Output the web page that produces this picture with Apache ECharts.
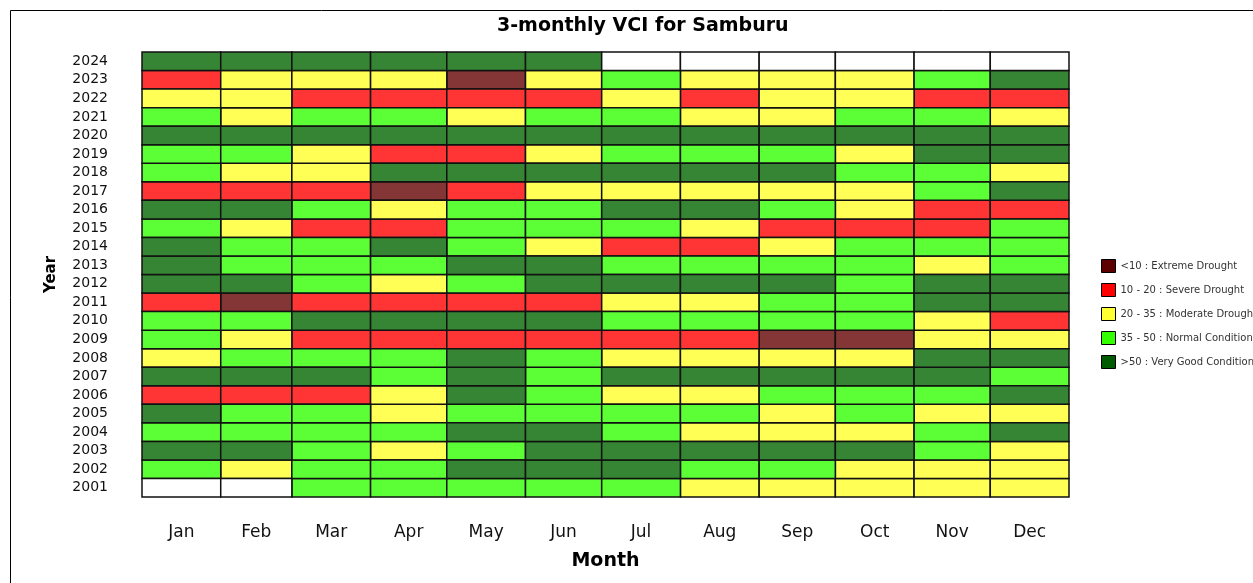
<!DOCTYPE html>
<html>
<head>
<meta charset="utf-8">
<script src="https://cdn.jsdelivr.net/npm/echarts@6/dist/echarts.min.js"></script>
<style>
  html, body { margin: 0; padding: 0; background: #fff; }
  #VciChart { width: 1253px; height: 583px; }
</style>
</head>
<body>
<div id="VciChart"></div>
<script>
// categories
var years = ['2001','2002','2003','2004','2005','2006','2007','2008','2009','2010','2011','2012',
             '2013','2014','2015','2016','2017','2018','2019','2020','2021','2022','2023','2024'];
var months = ['Jan','Feb','Mar','Apr','May','Jun','Jul','Aug','Sep','Oct','Nov','Dec'];
var monthDays = [31,28,31,30,31,30,31,31,30,31,30,31];

// VCI class limits and legend
var classMax = [10, 20, 35, 50, Infinity];
var classNames = ['<10 : Extreme Drought','10 - 20 : Severe Drought','20 - 35 : Moderate Drought',
                  '35 - 50 : Normal Conditions','>50 : Very Good Conditions'];
var cellColors = ['#843636','#ff3535','#ffff55','#5cff35','#358535'];
var legendColors = ['#5c0000','#ff0000','#ffff33','#33ff00','#005a00'];

// estimated 3-monthly VCI, one row per year (2001 -> 2024), null = no data
var vci = [
  [null,null,42,42,42,42,42,28,28,28,28,28],
  [42,28,42,42,60,60,60,42,42,28,28,28],
  [60,60,42,28,42,60,60,60,60,60,42,28],
  [42,42,42,42,60,60,42,28,28,28,42,60],
  [60,42,42,28,42,42,42,42,28,42,28,28],
  [15,15,15,28,60,42,28,28,42,42,42,60],
  [60,60,60,42,60,42,60,60,60,60,60,42],
  [28,42,42,42,60,42,28,28,28,28,60,60],
  [42,28,15,15,15,15,15,15,5,5,28,28],
  [42,42,60,60,60,60,42,42,42,42,28,15],
  [15,5,15,15,15,15,28,28,42,42,60,60],
  [60,60,42,28,42,60,60,60,60,42,60,60],
  [60,42,42,42,60,60,42,42,42,42,28,42],
  [60,42,42,60,42,28,15,15,28,42,42,42],
  [42,28,15,15,42,42,42,28,15,15,15,42],
  [60,60,42,28,42,42,60,60,42,28,15,15],
  [15,15,15,5,15,28,28,28,28,28,42,60],
  [42,28,28,60,60,60,60,60,60,42,42,28],
  [42,42,28,15,15,28,42,42,42,28,60,60],
  [60,60,60,60,60,60,60,60,60,60,60,60],
  [42,28,42,42,28,42,42,28,28,42,42,28],
  [28,28,15,15,15,15,28,15,28,28,15,15],
  [15,28,28,28,5,28,42,28,28,28,42,60],
  [60,60,60,60,60,60,null,null,null,null,null,null]
];

var monthStart = [];
var acc = 0;
for (var m = 0; m < 12; m++) { monthStart.push(acc); acc += monthDays[m]; }
var monthMid = monthStart.map(function (s, i) { return s + monthDays[i] / 2; });

function classOf(v) {
  for (var c = 0; c < classMax.length; c++) { if (v < classMax[c]) return c; }
  return classMax.length - 1;
}

// split cells per class
var classData = classNames.map(function () { return []; });
var missingData = [];
for (var y = 0; y < years.length; y++) {
  for (var m2 = 0; m2 < 12; m2++) {
    var v = vci[y][m2];
    var item = [monthStart[m2], monthStart[m2] + monthDays[m2], y, v];
    if (v === null) missingData.push(item);
    else classData[classOf(v)].push(item);
  }
}

function cellRenderer(fill) {
  return function (params, api) {
    var p0 = api.coord([api.value(0), api.value(2)]);
    var p1 = api.coord([api.value(1), api.value(2)]);
    var h = api.size([0, 1])[1];
    return {
      type: 'rect',
      shape: { x: p0[0], y: p0[1] - h / 2, width: p1[0] - p0[0], height: h },
      style: { fill: fill, stroke: '#111', lineWidth: 1.5 }
    };
  };
}

var series = classNames.map(function (name, c) {
  return {
    name: name,
    type: 'custom',
    renderItem: cellRenderer(cellColors[c]),
    encode: { x: [0, 1], y: 2 },
    itemStyle: { color: cellColors[c] },
    data: classData[c]
  };
});
series.push({
  name: 'No data',
  type: 'custom',
  renderItem: cellRenderer('#ffffff'),
  encode: { x: [0, 1], y: 2 },
  data: missingData
});

var VciChart = echarts.init(document.getElementById('VciChart'));
var VciChart_option = {
  backgroundColor: '#ffffff',
  animation: false,
  textStyle: { fontFamily: 'DejaVu Sans' },
  title: {
    text: '3-monthly VCI for Samburu',
    left: 492,
    top: 12,
    textStyle: { fontSize: 19, fontWeight: 'bold', color: '#000', fontFamily: 'DejaVu Sans' }
  },
  graphic: [{
    type: 'rect',
    shape: { x: 10.5, y: 10.5, width: 1300, height: 700 },
    style: { fill: 'none', stroke: '#000', lineWidth: 1 },
    silent: true
  }],
  legend: {
    orient: 'vertical',
    left: 1096,
    top: 254,
    padding: 5,
    itemWidth: 14,
    itemHeight: 13,
    itemGap: 10,
    selectedMode: false,
    icon: 'rect',
    textStyle: { fontSize: 10, lineHeight: 12, color: '#333', fontFamily: 'DejaVu Sans' },
    data: classNames.map(function (name, c) {
      return { name: name, itemStyle: { color: legendColors[c], borderColor: '#000', borderWidth: 1 } };
    })
  },
  grid: { left: 142, right: 184, top: 52, bottom: 86 },
  xAxis: {
    type: 'value',
    min: 0,
    max: acc,
    name: 'Month',
    nameLocation: 'middle',
    nameGap: 55,
    nameTextStyle: { fontSize: 19, fontWeight: 'bold', color: '#000', fontFamily: 'DejaVu Sans' },
    axisLine: { show: false },
    axisTick: { show: false },
    splitLine: { show: false },
    axisLabel: {
      customValues: monthMid,
      margin: 27,
      fontSize: 17,
      color: '#111',
      fontFamily: 'DejaVu Sans',
      formatter: function (val) {
        for (var i = 0; i < 12; i++) { if (Math.abs(monthMid[i] - val) < 0.01) return months[i]; }
        return '';
      }
    }
  },
  yAxis: {
    type: 'category',
    data: years,
    name: 'Year',
    nameLocation: 'middle',
    nameGap: 83,
    nameTextStyle: { fontSize: 15, fontWeight: 'bold', color: '#000', fontFamily: 'DejaVu Sans' },
    axisLine: { show: false },
    axisTick: { show: false },
    splitLine: { show: false },
    axisLabel: { margin: 34, fontSize: 14, color: '#111', interval: 0, fontFamily: 'DejaVu Sans' }
  },
  series: series
};
VciChart.setOption(VciChart_option, true);
</script>
</body>
</html>
